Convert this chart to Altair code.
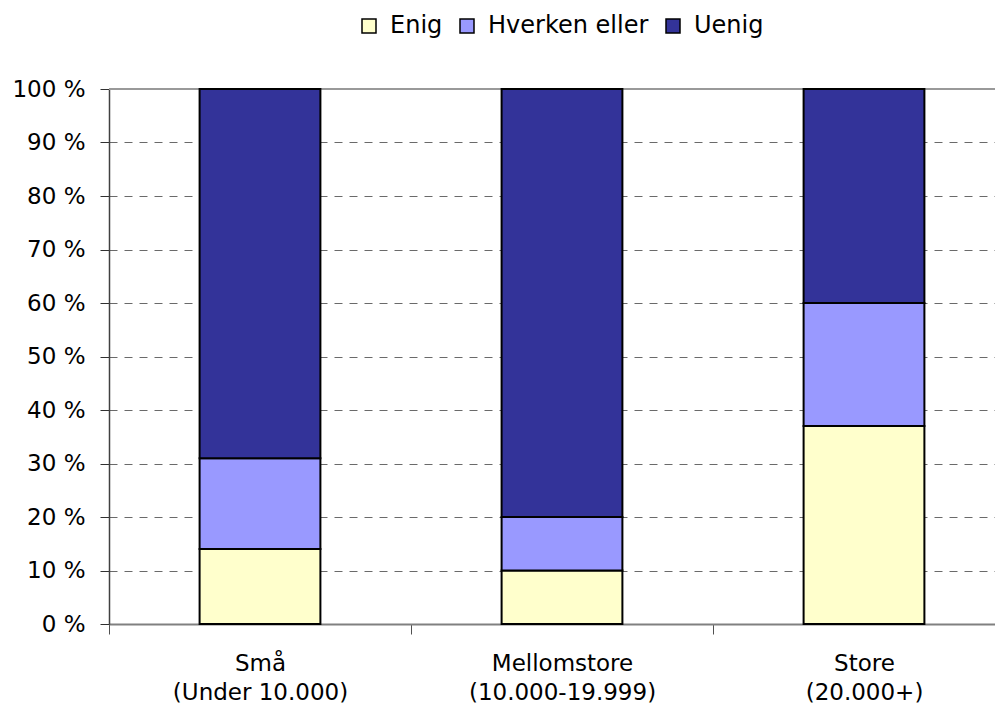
import altair as alt
import pandas as pd

groups = ["Små", "Mellomstore", "Store"]
sublabels = ["(Under 10.000)", "(10.000-19.999)", "(20.000+)"]
answers = ["Enig", "Hverken eller", "Uenig"]
colors = ["#FFFFCC", "#9999FF", "#333399"]
enig = [14, 10, 37]
hverken = [17, 10, 23]
uenig = [69, 80, 40]
y_ticks = [0, 10, 20, 30, 40, 50, 60, 70, 80, 90, 100]
top_line = [100]

series = [enig, hverken, uenig]
cats = [g + "\n" + s for g, s in zip(groups, sublabels)]
rows = []
for gi, cat in enumerate(cats):
    for ai, a in enumerate(answers):
        rows.append({"cat": cat, "answer": a, "value": series[ai][gi], "order": ai})
df = pd.DataFrame(rows)

FONT = "DejaVu Sans"

y_axis = alt.Axis(
    title=None,
    values=y_ticks,
    labelExpr="datum.value + ' %'",
    grid=True,
    gridDash=[8, 7],
    gridColor="#6a6a6a",
    gridWidth=1,
    tickSize=9,
    tickColor="#303030",
    labelPadding=15,
    labelFontSize=23,
    labelColor="black",
    labelFont=FONT,
    domainColor="#404040",
    domainWidth=1.5,
)
y_scale = alt.Scale(domain=[0, 100])

top_rule = alt.Chart(pd.DataFrame({"value": top_line})).mark_rule(
    color="#999999", strokeWidth=2
).encode(y=alt.Y("value:Q", axis=y_axis, scale=y_scale))

bars = alt.Chart(df).mark_bar(
    stroke="black", strokeWidth=2, width=alt.RelativeBandSize(0.4)
).encode(
    x=alt.X(
        "cat:N",
        sort=cats,
        scale=alt.Scale(range=[0, 906], paddingInner=0, paddingOuter=0),
        axis=alt.Axis(
            title=None,
            labelExpr="split(datum.label, '\\n')",
            labelAngle=0,
            labelOverlap=False,
            labelLimit=400,
            tickBand="extent",
            ticks=True,
            tickSize=10,
            tickColor="#505050",
            tickWidth=1,
            labelPadding=18,
            labelFontSize=23,
            labelLineHeight=29,
            labelColor="black",
            labelFont=FONT,
            domainColor="#808080",
            domainWidth=2,
        ),
    ),
    y=alt.Y("value:Q", stack="zero", scale=y_scale, axis=y_axis),
    color=alt.Color(
        "answer:N",
        scale=alt.Scale(domain=answers, range=colors),
        legend=alt.Legend(
            title=None,
            orient="none",
            legendX=248,
            legendY=-75,
            direction="horizontal",
            symbolType="square",
            symbolSize=196,
            symbolStrokeColor="black",
            symbolStrokeWidth=1.5,
            symbolOpacity=1,
            labelFontSize=24,
            labelFont=FONT,
            labelColor="black",
            labelLimit=400,
            labelOffset=9,
            columnPadding=12,
            padding=0,
        ),
    ),
    order=alt.Order("order:Q", sort="ascending"),
)

chart = alt.layer(top_rule, bars).properties(
    width=886,
    height=535,
    autosize="none",
    padding={"left": 101, "top": 81, "right": 0, "bottom": 81},
    background="white",
).configure_view(stroke=None).configure(font=FONT)

chart.save("out.html", embed_options={"renderer": "svg", "actions": False})
